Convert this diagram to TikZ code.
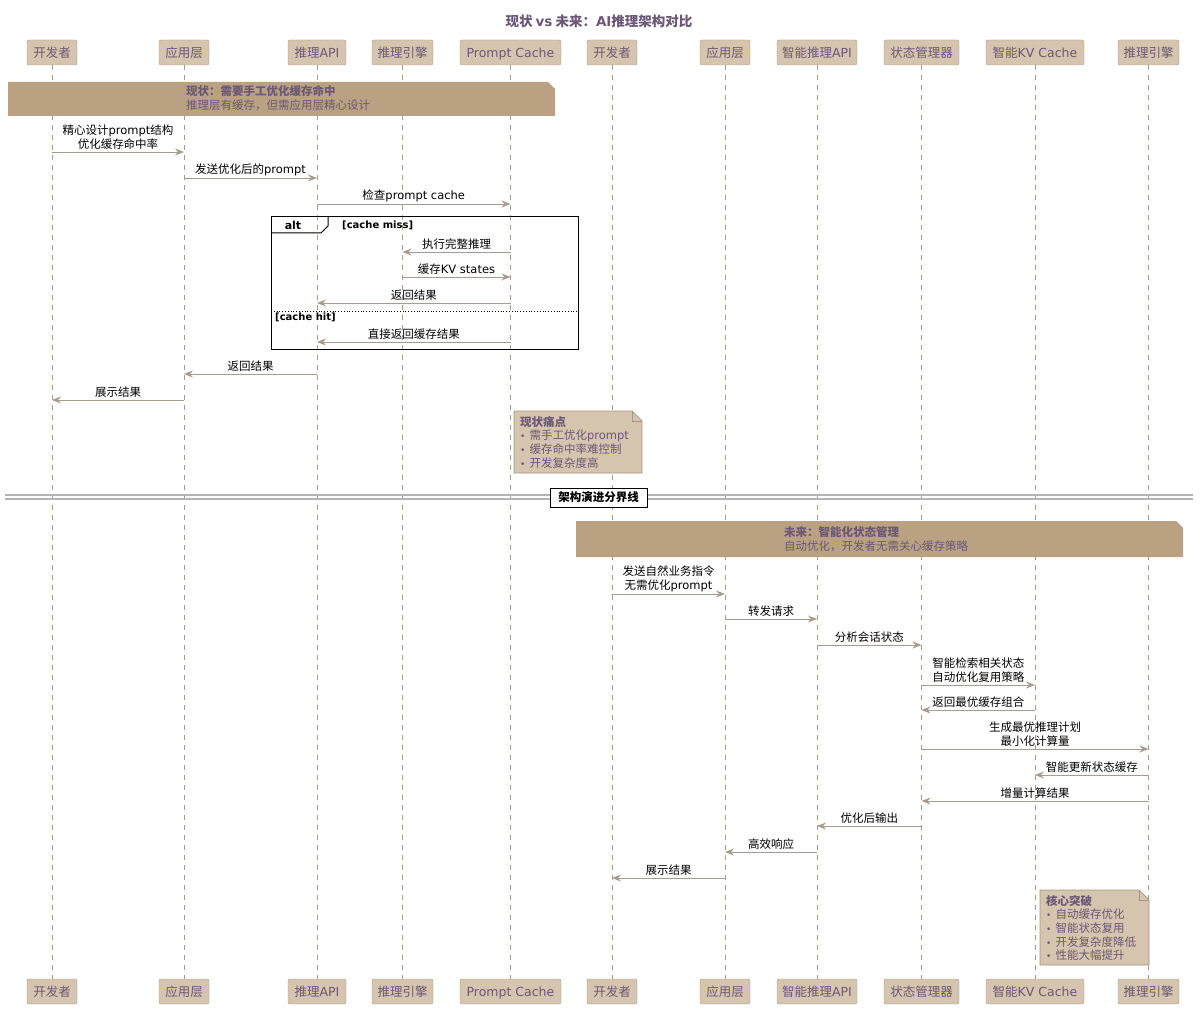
\documentclass[tikz,border=0pt]{standalone}
\usepackage{fontspec}
\setmainfont{Noto Sans CJK SC}
\newfontfamily\latfont{DejaVu Sans}
\newcommand\lat[1]{{\latfont #1}}
\newcommand\bul{{\latfont\fontsize{9}{10}\selectfont •}\hspace{4pt}}
\usetikzlibrary{arrows.meta,calc}
\definecolor{pfill}{HTML}{D5C4AE}
\definecolor{pdraw}{HTML}{A8957F}
\definecolor{bandc}{HTML}{B9A182}
\definecolor{ptext}{HTML}{6B5876}
\definecolor{arr}{HTML}{A89A8C}
\definecolor{life}{HTML}{A39A90}
\definecolor{sepc}{HTML}{B4B4B4}
\newcommand\seqmsg[5]{%
  \draw[msg] (#1 |- 0,#3) -- (#2 |- 0,#3)
    node[lbl] (#5) at ($(#1 |- 0,#3)!0.5!(#2 |- 0,#3)$) {#4};}
\begin{document}
\begin{tikzpicture}[x=1pt,y=-1pt,
  part/.style={draw=pdraw,fill=pfill,rounded corners=2pt,minimum height=25pt,
    inner sep=0pt,text=ptext,font=\fontsize{12.5}{14}\selectfont,
    text height=11pt,text depth=1.5pt},
  msg/.style={draw=arr,line width=0.9pt,-{Stealth[length=9pt,width=7pt,inset=3pt]}},
  lbl/.style={font=\fontsize{11.5}{14}\selectfont,align=center,inner sep=0pt,
    anchor=south,yshift=2pt},
  lifeline/.style={draw=life,dash pattern=on 5pt off 5pt,line width=0.7pt},
  bandshape/.style={fill=bandc,draw=none},
  notebox/.style={fill=pfill,draw=pdraw,line width=0.7pt},
  notetext/.style={font=\fontsize{11.5}{13.7}\selectfont,align=left,text=ptext,
    inner sep=0pt,anchor=north west},
  bandtext/.style={font=\fontsize{11.5}{14}\selectfont,align=left,text=ptext,
    inner sep=0pt,anchor=west},
  frame/.style={draw=black,line width=1pt},
  guard/.style={font=\bfseries\fontsize{10}{12}\selectfont,inner sep=0pt},
  sepline/.style={draw=sepc,line width=1.3pt}]
\useasboundingbox[fill=white] (0,0) rectangle (1200,1011);

% title
\node[font=\bfseries\fontsize{13.5}{15}\selectfont,text=ptext] (title) at (599,21)
  {现状 \lat{vs} 未来：\lat{AI}推理架构对比};

% participants top and bottom
\foreach \n/\x/\w/\t in {1/52/50/开发者,2/184/50/应用层,3/317/58/推理\lat{API},
  4/402.5/61/推理引擎,5/510.5/101/\lat{Prompt Cache},6/612/50/开发者,7/725/50/应用层,
  8/817/80/智能推理\lat{API},9/921.5/75/状态管理器,10/1035/98/智能\lat{KV Cache},
  11/1148.5/61/推理引擎}{
  \node[part,minimum width=\w pt] (p\n) at (\x,52.5) {\t};
  \node[part,minimum width=\w pt] (q\n) at (\x,991.5) {\t};
}
\foreach \n in {1,...,11}{\draw[lifeline] (p\n.south) -- (q\n.north);}

% band 1
\path[bandshape] (8,82) -- (548,82) -- (555,89) -- (555,116) -- (8,116) -- cycle;
\node[bandtext] (band1) at (186,98)
  {\textbf{现状：需要手工优化缓存命中}\\推理层有缓存，但需应用层精心设计};

% messages part 1
\seqmsg{p1}{p2}{152}{精心设计\lat{prompt}结构\\优化缓存命中率}{m1}
\seqmsg{p2}{p3}{178}{发送优化后的\lat{prompt}}{m2}
\seqmsg{p3}{p5}{204}{检查\lat{prompt cache}}{m3}

% alt frame
\draw[frame] (271,217) rectangle (578,349);
\draw[frame] (271,233) -- (321,233) -- (328,226) -- (328,217);
\node[guard,font=\latfont\bfseries\fontsize{11}{13}\selectfont] (altlbl) at (293,225.5) {alt};
\node[guard,font=\latfont\bfseries\fontsize{10}{12}\selectfont,anchor=west] (g1) at (342,225) {[cache miss]};
\seqmsg{p5}{p4}{252}{执行完整推理}{m4}
\seqmsg{p4}{p5}{277}{缓存\lat{KV states}}{m5}
\seqmsg{p5}{p3}{303}{返回结果}{m6}
\draw[black,line width=0.8pt,dotted] (271,311) -- (578,311);
\node[guard,font=\latfont\bfseries\fontsize{10}{12}\selectfont,anchor=west] (g2) at (275,317) {[cache hit]};
\seqmsg{p5}{p3}{342}{直接返回缓存结果}{m7}

\seqmsg{p3}{p2}{374}{返回结果}{m8}
\seqmsg{p2}{p1}{400}{展示结果}{m9}

% note 1
\path[notebox] (514,411) -- (632,411) -- (642,421) -- (642,473) -- (514,473) -- cycle;
\draw[draw=pdraw,line width=0.7pt] (632,411) -- (632,421) -- (642,421);
\node[notetext] (n1) at (520,416)
  {\textbf{现状痛点}\\\bul 需手工优化\lat{prompt}\\\bul 缓存命中率难控制\\\bul 开发复杂度高};

% separator
\draw[sepline] (5,495) -- (1193,495);
\draw[sepline] (5,499) -- (1193,499);
\node[draw=black,fill=white,line width=0.8pt,minimum width=97pt,minimum height=19pt,
  inner sep=0pt,font=\bfseries\fontsize{11.5}{13}\selectfont] (sep) at (598.5,497.5)
  {架构演进分界线};

% band 2
\path[bandshape] (576,521) -- (1176,521) -- (1183,528) -- (1183,557) -- (576,557) -- cycle;
\node[bandtext] (band2) at (784,539)
  {\textbf{未来：智能化状态管理}\\自动优化，开发者无需关心缓存策略};

% messages part 2
\seqmsg{p6}{p7}{594}{发送自然业务指令\\无需优化\lat{prompt}}{m10}
\seqmsg{p7}{p8}{619}{转发请求}{m11}
\seqmsg{p8}{p9}{645}{分析会话状态}{m12}
\seqmsg{p9}{p10}{685}{智能检索相关状态\\自动优化复用策略}{m13}
\seqmsg{p10}{p9}{710}{返回最优缓存组合}{m14}
\seqmsg{p9}{p11}{749}{生成最优推理计划\\最小化计算量}{m15}
\seqmsg{p11}{p10}{775}{智能更新状态缓存}{m16}
\seqmsg{p11}{p9}{801}{增量计算结果}{m17}
\seqmsg{p9}{p8}{826}{优化后输出}{m18}
\seqmsg{p8}{p7}{852}{高效响应}{m19}
\seqmsg{p7}{p6}{878}{展示结果}{m20}

% note 2
\path[notebox] (1040,890) -- (1139,890) -- (1149,900) -- (1149,965) -- (1040,965) -- cycle;
\draw[draw=pdraw,line width=0.7pt] (1139,890) -- (1139,900) -- (1149,900);
\node[notetext] (n2) at (1046,895)
  {\textbf{核心突破}\\\bul 自动缓存优化\\\bul 智能状态复用\\\bul 开发复杂度降低\\\bul 性能大幅提升};
\end{tikzpicture}
\end{document}
